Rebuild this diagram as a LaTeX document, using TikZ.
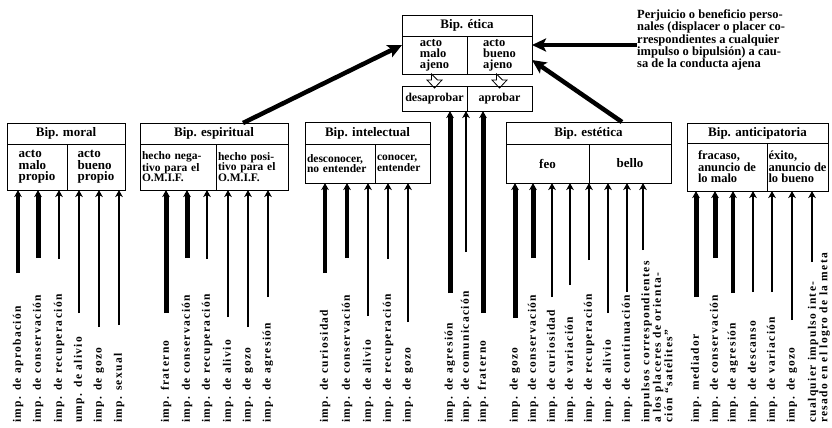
\documentclass[tikz,border=0pt]{standalone}
\usepackage{fontspec}
\setmainfont{Liberation Serif}
\newfontfamily\spacedfont[LetterSpace=12]{Liberation Serif}
\usepackage{tikz}
\usetikzlibrary{arrows.meta, calc}

\tikzset{
	bip/.style={draw, line width=0.8pt, inner sep=0pt, outer sep=0pt, anchor=north west},
	ttl/.style={bip, font=\fontsize{13}{12}\selectfont\bfseries},
	cell/.style={bip, align=left, font=\fontsize{13}{11.5}\selectfont\bfseries},
	lcell/.style={bip, align=left, inner xsep=2pt, font=\fontsize{11.5}{10.5}\selectfont\bfseries},
	lbl/.style={rotate=90, anchor=west, inner sep=0pt, align=left, font=\spacedfont\fontsize{11.5}{11.5}\selectfont\bfseries},
	imp/.style={-{Stealth[length=7pt, width=7.5pt, inset=2pt]}},
	vthick/.style={line width=5pt},
	thk/.style={line width=4pt},
	med/.style={line width=2.5pt},
	thn/.style={line width=1.5pt},
	big/.style={line width=4.5pt, -{Stealth[length=14pt, width=13pt, inset=3pt]}},
	hollow/.style={draw, fill=white, line width=0.8pt}
}

\begin{document}
\begin{tikzpicture}[x=1pt, y=-1pt]
	\useasboundingbox (0,0) rectangle (832,428);

	%% Bip. etica and its verdict
	\node[ttl, minimum width=130, minimum height=21] (eti) at (402,15) {Bip. ética};
	\node[cell, minimum width=65, minimum height=38, font=\fontsize{12.5}{11}\selectfont\bfseries] (eti-a) at (eti.south west) {acto\\malo\\ajeno};
	\node[cell, minimum width=65, minimum height=38, font=\fontsize{12.5}{11}\selectfont\bfseries] (eti-b) at (eti-a.north east) {acto\\bueno\\ajeno};
	\draw[hollow] ($(eti-a.south)+(-3,0)$) -- ++(0,6) -- ++(-4.5,0) -- ++(7.5,8) -- ++(7.5,-8) -- ++(-4.5,0) -- cycle;
	\draw[hollow] ($(eti-b.south)+(-3,0)$) -- ++(0,6) -- ++(-4.5,0) -- ++(7.5,8) -- ++(7.5,-8) -- ++(-4.5,0) -- cycle;
	\node[cell, minimum width=65, minimum height=25, font=\fontsize{12}{11}\selectfont\bfseries] (desap) at (402,86) {desaprobar};
	\node[cell, minimum width=65, minimum height=25, font=\fontsize{12}{11}\selectfont\bfseries] (apr) at (desap.north east) {aprobar};

	\node[anchor=west, align=left, inner sep=0pt, font=\fontsize{12.5}{10.5}\selectfont\bfseries] (perj) at (637,40) {Perjuicio o beneficio perso-\\nales (displacer o placer co-\\rrespondientes a cualquier\\impulso o bipulsión) a cau-\\sa de la conducta ajena};

	%% the five lower bipulsions
	\node[ttl, minimum width=118, minimum height=21] (mo) at (7,123) {Bip. moral};
	\node[cell, minimum width=60, minimum height=46] (mo-a) at (mo.south west) {acto\\malo\\propio};
	\node[cell, minimum width=58, minimum height=46] (mo-b) at (mo-a.north east) {acto\\bueno\\propio};

	\node[ttl, minimum width=148, minimum height=21] (es) at (140,123) {Bip. espiritual};
	\node[lcell, text width=72, minimum height=46] (es-a) at (es.south west) {hecho nega-\\tivo para el\\O.M.I.F.};
	\node[lcell, text width=68, minimum height=46] (es-b) at (es-a.north east) {hecho posi-\\tivo para el\\O.M.I.F.};

	\node[ttl, minimum width=125, minimum height=22] (in) at (305,122) {Bip. intelectual};
	\node[lcell, text width=66, minimum height=39] (in-a) at (in.south west) {desconocer,\\no entender};
	\node[lcell, text width=51, minimum height=39] (in-b) at (in-a.north east) {conocer,\\entender};

	\node[ttl, minimum width=165, minimum height=22] (et) at (506,122) {Bip. estética};
	\node[cell, minimum width=83, minimum height=39] (et-a) at (et.south west) {feo};
	\node[cell, minimum width=82, minimum height=39] (et-b) at (et-a.north east) {bello};

	\node[ttl, minimum width=141, minimum height=20] (an) at (687,123) {Bip. anticipatoria};
	\node[cell, minimum width=80, minimum height=48, font=\fontsize{12.5}{11.5}\selectfont\bfseries] (an-a) at (an.south west) {fracaso,\\anuncio de\\lo malo};
	\node[cell, minimum width=61, minimum height=48, font=\fontsize{12.5}{11.5}\selectfont\bfseries] (an-b) at (an-a.north east) {éxito,\\anuncio de\\lo bueno};

	%% big arrows into Bip. etica
	\draw[big] ($(es.north east)+(-45,0)$) -- ($(eti-a.north west)+(0,9)$);
	\draw[big] (perj.west |- 0,45) -- (eti-b.east |- 0,45);
	\draw[big] ($(et.north west)+(116,0)$) -- ($(eti-b.north east)+(0,24)$);

	%% impulses
	\node[lbl] (mo1) at (18,423) {imp. de aprobación};
	\node[lbl] (mo2) at (38,423) {imp. de conservación};
	\node[lbl] (mo3) at (59,423) {imp. de recuperación};
	\node[lbl] (mo4) at (79,423) {ump. de alivio};
	\node[lbl] (mo5) at (99,423) {imp. de gozo};
	\node[lbl] (mo6) at (119,423) {imp. sexual};
	\draw[imp, thk] (mo1 |- 0,273) -- (mo1 |- mo-a.south);
	\draw[imp, vthick] (mo2 |- 0,258) -- (mo2 |- mo-a.south);
	\draw[imp, med] (mo3 |- 0,259) -- (mo3 |- mo-a.south);
	\draw[imp, thn] (mo4 |- 0,313) -- (mo4 |- mo-b.south);
	\draw[imp, thn] (mo5 |- 0,327) -- (mo5 |- mo-b.south);
	\draw[imp, thn] (mo6 |- 0,325) -- (mo6 |- mo-b.south);

	\node[lbl] (es1) at (166,423) {imp. fraterno};
	\node[lbl] (es2) at (187,423) {imp. de conservación};
	\node[lbl] (es3) at (207,423) {imp. de recuperación};
	\node[lbl] (es4) at (228,423) {imp. de alivio};
	\node[lbl] (es5) at (248,423) {imp. de gozo};
	\node[lbl] (es6) at (268,423) {imp. de agresión};
	\draw[imp, vthick] (es1 |- 0,313) -- (es1 |- es-a.south);
	\draw[imp, vthick] (es2 |- 0,258) -- (es2 |- es-a.south);
	\draw[imp, med] (es3 |- 0,259) -- (es3 |- es-a.south);
	\draw[imp, thn] (es4 |- 0,317) -- (es4 |- es-b.south);
	\draw[imp, thn] (es5 |- 0,327) -- (es5 |- es-b.south);
	\draw[imp, thn] (es6 |- 0,297) -- (es6 |- es-b.south);

	\node[lbl] (in1) at (325,423) {imp. de curiosidad};
	\node[lbl] (in2) at (347,423) {imp. de conservación};
	\node[lbl] (in3) at (368,423) {imp. de alivio};
	\node[lbl] (in4) at (388,423) {imp. de recuperación};
	\node[lbl] (in5) at (408,423) {imp. de gozo};
	\draw[imp, thk] (in1 |- 0,273) -- (in1 |- in-a.south);
	\draw[imp, thk] (in2 |- 0,258) -- (in2 |- in-a.south);
	\draw[imp, thn] (in3 |- 0,316) -- (in3 |- in-a.south);
	\draw[imp, med] (in4 |- 0,259) -- (in4 |- in-b.south);
	\draw[imp, thn] (in5 |- 0,322) -- (in5 |- in-b.south);

	\node[lbl] (ap1) at (450,423) {imp. de agresión};
	\node[lbl] (ap2) at (466,423) {imp. de comunicación};
	\node[lbl] (ap3) at (483,423) {imp. fraterno};
	\draw[imp, vthick] (ap1 |- 0,293) -- (ap1 |- desap.south);
	\draw[imp, thn] (ap2 |- 0,252) -- (ap2 |- desap.south);
	\draw[imp, vthick] (ap3 |- 0,313) -- (ap3 |- apr.south);

	\node[lbl] (et1) at (515,423) {imp. de gozo};
	\node[lbl] (et2) at (533,423) {imp. de conservación};
	\node[lbl] (et3) at (552,423) {imp. de curiosidad};
	\node[lbl] (et4) at (570,423) {imp. de variación};
	\node[lbl] (et5) at (589,423) {imp. de recuperación};
	\node[lbl] (et6) at (608,423) {imp. de alivio};
	\node[lbl] (et7) at (627,423) {imp. de continuación};
	\node[lbl] (et8) at (657,423) {impulsos correspondientes\\a los placeres de orienta-\\ción “satélites”};
	\coordinate (et8t) at (643,250);
	\draw[imp, vthick] (et1 |- 0,318) -- (et1 |- et-a.south);
	\draw[imp, vthick] (et2 |- 0,258) -- (et2 |- et-a.south);
	\draw[imp, thn] (et3 |- 0,297) -- (et3 |- et-a.south);
	\draw[imp, thn] (et4 |- 0,285) -- (et4 |- et-a.south);
	\draw[imp, med] (et5 |- 0,260) -- (et5 |- et-b.south);
	\draw[imp, thn] (et6 |- 0,313) -- (et6 |- et-b.south);
	\draw[imp, thn] (et7 |- 0,292) -- (et7 |- et-b.south);
	\draw[imp, thn] (et8t) -- (et8t |- et-b.south);

	\node[lbl] (an1) at (696,423) {imp. mediador};
	\node[lbl] (an2) at (715,423) {imp. de conservación};
	\node[lbl] (an3) at (733,423) {imp. de agresión};
	\node[lbl] (an4) at (753,423) {imp. de descanso};
	\node[lbl] (an5) at (772,423) {imp. de variación};
	\node[lbl] (an6) at (792,423) {imp. de gozo};
	\node[lbl] (an7) at (819,423) {cualquier impulso inte-\\resado en el logro de la meta};
	\coordinate (an7t) at (812,262);
	\draw[imp, vthick] (an1 |- 0,297) -- (an1 |- an-a.south);
	\draw[imp, vthick] (an2 |- 0,258) -- (an2 |- an-a.south);
	\draw[imp, thk] (an3 |- 0,293) -- (an3 |- an-a.south);
	\draw[imp, thn] (an4 |- 0,292) -- (an4 |- an-a.south);
	\draw[imp, thn] (an5 |- 0,292) -- (an5 |- an-b.south);
	\draw[imp, med] (an6 |- 0,320) -- (an6 |- an-b.south);
	\draw[imp, thn] (an7t) -- (an7t |- an-b.south);
\end{tikzpicture}
\end{document}
